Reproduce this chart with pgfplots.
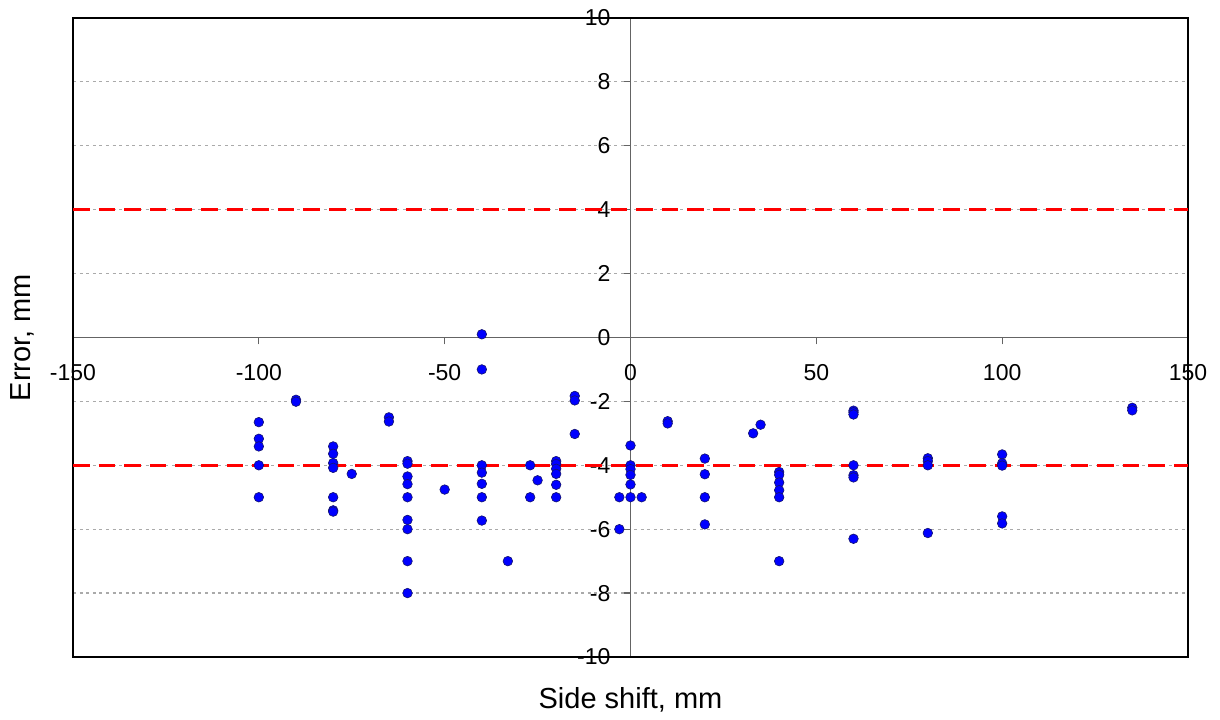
\documentclass[border=0pt]{standalone}
\usepackage{pgfplots}
\pgfplotsset{compat=1.18}
\usepackage{fontspec}
\setmainfont{Liberation Sans}
\definecolor{axgray}{RGB}{100,100,100}
\definecolor{gridgray}{RGB}{170,170,170}
\definecolor{navy}{RGB}{20,20,110}
\begin{document}
\begin{tikzpicture}
\begin{axis}[
  scale only axis,
  width=557.5pt, height=319.5pt,
  xmin=-150, xmax=150, ymin=-10, ymax=10,
  axis lines=middle,
  hide obscured x ticks=false,
  hide obscured y ticks=false,
  axis line style={-, axgray, line width=0.6pt},
  xtick={-150,-100,-50,0,50,100,150},
  ytick={-10,-8,-6,-4,-2,0,2,4,6,8,10},
  tick align=center,
  major tick length=3.5pt,
  tick style={axgray, line width=0.6pt},
  x tick style={yshift=-1.75pt},
  y tick style={xshift=-1.75pt},
  ymajorgrids,
  major grid style={gridgray, dash pattern=on 1.5pt off 1.8pt, line width=0.6pt},
  /pgf/number format/assume math mode=true,
  ticklabel style={font=\fontsize{11.5}{13}\selectfont},
  xticklabel style={anchor=north, yshift=-8.25pt},
  yticklabel style={anchor=east, xshift=-4.75pt},
  xlabel={Side shift, mm},
  ylabel={Error, mm},
  label style={font=\fontsize{14.5}{17}\selectfont},
  xlabel style={at={(axis description cs:0.5,-0.0673)}, anchor=center},
  ylabel style={at={(axis description cs:-0.0457,0.5)}, anchor=center, rotate=90},
  clip=false,
]
\draw[black, line width=0.7pt] (rel axis cs:0,0) rectangle (rel axis cs:1,1);
\addplot[red, line width=1.5pt, dash pattern=on 8.3pt off 4.5pt, forget plot] coordinates {(-150,4) (150,4)};
\addplot[red, line width=1.5pt, dash pattern=on 8.3pt off 4.5pt, forget plot] coordinates {(-150,-4) (150,-4)};
\addplot[only marks, mark=*, mark size=2.4pt, mark options={fill=blue, draw=navy, line width=0.3pt}] coordinates {
(-100,-2.65) (-100,-3.17) (-100,-3.41) (-100,-4.0) (-100,-5.0)
(-90,-1.95) (-90,-2.01)
(-80,-3.41) (-80,-3.64) (-80,-3.93) (-80,-4.08) (-80,-5.0) (-80,-5.41) (-80,-5.45)
(-75,-4.27)
(-65,-2.5) (-65,-2.63)
(-60,-3.87) (-60,-3.95) (-60,-4.35) (-60,-4.59) (-60,-5.0) (-60,-5.71) (-60,-6.0) (-60,-7.0) (-60,-8.0)
(-50,-4.76)
(-40,0.1) (-40,-1.0) (-40,-4.0) (-40,-4.23) (-40,-4.58) (-40,-5.0) (-40,-5.73)
(-33,-7.0)
(-27,-4.0) (-27,-5.0)
(-25,-4.47)
(-20,-3.87) (-20,-3.96) (-20,-4.11) (-20,-4.27) (-20,-4.61) (-20,-5.0)
(-15,-1.83) (-15,-1.97) (-15,-3.02)
(-3,-5.0) (-3,-6.0)
(0,-3.38) (0,-4.0) (0,-4.12) (0,-4.3) (0,-4.6) (0,-5.0)
(3,-5.0)
(10,-2.62) (10,-2.69)
(20,-3.79) (20,-4.28) (20,-5.0) (20,-5.85)
(33,-3.0)
(35,-2.73)
(40,-4.21) (40,-4.3) (40,-4.54) (40,-4.78) (40,-5.0) (40,-7.0)
(60,-2.29) (60,-2.34) (60,-2.41) (60,-4.0) (60,-4.31) (60,-4.38) (60,-6.3)
(80,-3.78) (80,-3.87) (80,-4.0) (80,-6.12)
(100,-3.66) (100,-3.94) (100,-4.01) (100,-5.6) (100,-5.82)
(135,-2.2) (135,-2.28)
};
\end{axis}
\path (current axis.south west) ++(-36.5pt,-31pt) coordinate (bbA);
\path (current axis.north east) ++(16pt,9pt) coordinate (bbB);
\useasboundingbox (bbA) rectangle (bbB);
\end{tikzpicture}
\end{document}
